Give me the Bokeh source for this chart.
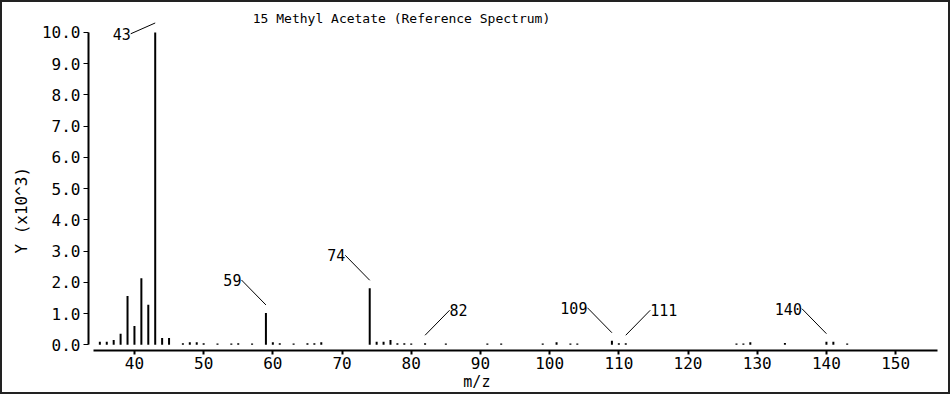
from bokeh.plotting import figure
from bokeh.models import Range1d, FixedTicker, ColumnDataSource, Label, NumeralTickFormatter
from bokeh.embed import file_html
from bokeh.resources import INLINE
from bokeh.core.properties import value

# ---------------- data ----------------
title_text = "15 Methyl Acetate (Reference Spectrum)"
x_label = "m/z"
y_label = "Y (x10^3)"

mz = [35, 36, 37, 38, 39, 40, 41, 42, 43, 44, 45, 47, 48, 49, 50, 52, 54, 55, 57,
      59, 60, 61, 63, 65, 66, 67, 74, 75, 76, 77, 78, 79, 80, 82, 85, 91, 93,
      99, 101, 103, 104, 109, 110, 111, 127, 128, 129, 134, 140, 141, 143]
intensity = [0.10, 0.10, 0.15, 0.35, 1.56, 0.60, 2.13, 1.28, 10.0, 0.22, 0.22,
             0.05, 0.08, 0.08, 0.05, 0.04, 0.04, 0.05, 0.04,
             1.02, 0.08, 0.05, 0.04, 0.05, 0.05, 0.08,
             1.81, 0.10, 0.10, 0.15, 0.05, 0.05, 0.04, 0.05, 0.04, 0.04, 0.04,
             0.04, 0.08, 0.04, 0.04, 0.13, 0.05, 0.05, 0.04, 0.04, 0.08, 0.06,
             0.10, 0.10, 0.04]

labeled_mz = [43, 59, 74, 82, 109, 111, 140]
label_goes_right = {82: True, 111: True}

x_ticks = [40, 50, 60, 70, 80, 90, 100, 110, 120, 130, 140, 150]
y_ticks = [0, 1, 2, 3, 4, 5, 6, 7, 8, 9, 10]

# ---------------- layout ----------------
FONT = "DejaVu Sans Mono"
NBSP = "\u00a0"
BW = 2
W, H = 950, 394
ML, MR, MT, MB = 86, 15, 0, 46
X0, X1 = 33.36, 156.05
Y0, Y1 = -0.1825, 10.96
FW = W - ML - MR
px_x = FW / (X1 - X0)
px_y = (348 - MT) / (Y1 - Y0)


def sx(px):  # page pixel -> data x
    return X0 + (px - (ML + BW)) / px_x


def sy(px):  # page pixel -> data y
    return Y1 - (px - (MT + BW)) / px_y


p = figure(width=W, height=H, output_backend="svg", toolbar_location=None,
           x_range=Range1d(X0, X1), y_range=Range1d(Y0, Y1),
           min_border_left=ML, min_border_right=MR, min_border_top=MT, min_border_bottom=MB)
p.outline_line_color = None
p.xgrid.visible = False
p.ygrid.visible = False
p.background_fill_color = "white"
p.border_fill_color = "white"
p.styles = {"border": f"{BW}px solid #222"}

# x axis
xa = p.xaxis[0]
xa.ticker = FixedTicker(ticks=x_ticks)
xa.bounds = (X0 + 5 / px_x, X1)
xa.axis_line_width = 2
xa.axis_line_color = "black"
xa.major_tick_out = 4
xa.major_tick_in = 0
xa.major_tick_line_width = 2
xa.minor_tick_line_color = None
xa.major_label_text_font = FONT
xa.major_label_text_font_size = "16px"
xa.major_label_text_color = "black"
xa.major_label_standoff = 2
xa.axis_label = x_label + NBSP * 8
xa.axis_label_text_font = FONT
xa.axis_label_text_font_size = "15px"
xa.axis_label_text_font_style = "normal"
xa.axis_label_text_color = "black"
xa.axis_label_standoff = 1

# y axis
ya = p.yaxis[0]
ya.ticker = FixedTicker(ticks=y_ticks)
ya.formatter = NumeralTickFormatter(format="0.0")
ya.bounds = (0, 10)
ya.axis_line_width = 2
ya.axis_line_color = "black"
ya.major_tick_out = 5
ya.major_tick_in = 0
ya.major_tick_line_width = 1
ya.minor_tick_line_color = None
ya.major_label_text_font = FONT
ya.major_label_text_font_size = "16px"
ya.major_label_text_color = "black"
ya.major_label_standoff = 3
ya.axis_label = y_label + NBSP * 7
ya.axis_label_text_font = FONT
ya.axis_label_text_font_size = "16px"
ya.axis_label_text_font_style = "normal"
ya.axis_label_text_color = "black"
ya.axis_label_standoff = 8

# bars
src = ColumnDataSource(dict(mz=mz, y1=intensity, y0=[0] * len(mz)))
p.segment(x0="mz", y0="y0", x1="mz", y1="y1", source=src, line_width=2,
          line_color="black", line_cap="butt")

# peak labels with leader lines
inten = dict(zip(mz, intensity))
lx0, ly0, lx1, ly1 = [], [], [], []
tl = dict(x=[], y=[], t=[])
tr = dict(x=[], y=[], t=[])
for m in labeled_mz:
    h = inten[m]
    right = label_goes_right.get(m, False)
    dx = 1 if right else -1
    sy0 = h + 8 / px_y
    ex = m + dx * 24.5 / px_x
    ey = sy0 + 25 / px_y
    if ey > 10.4:
        sy0 = h + 9.5 / px_y
        ey = h - 1.3 / px_y
    lx0.append(m); ly0.append(sy0); lx1.append(ex); ly1.append(ey)
    d = tr if right else tl
    d["x"].append(ex); d["y"].append(ey); d["t"].append(str(m))

p.segment(x0=lx0, y0=ly0, x1=lx1, y1=ly1, line_color="black", line_width=1)
p.text(x=tl["x"], y=tl["y"], text=tl["t"], text_align="right", text_baseline="middle",
       text_font=value(FONT), text_font_size="15px", text_color="black")
p.text(x=tr["x"], y=tr["y"], text=tr["t"], text_align="left", text_baseline="middle",
       text_font=value(FONT), text_font_size="15px", text_color="black")

# title
p.add_layout(Label(x=sx(401), y=sy(18), text=title_text,
                   text_align="center", text_baseline="middle", text_font=FONT,
                   text_font_size="13px", text_color="black"))

open("out.html", "w").write(file_html(p, INLINE))
